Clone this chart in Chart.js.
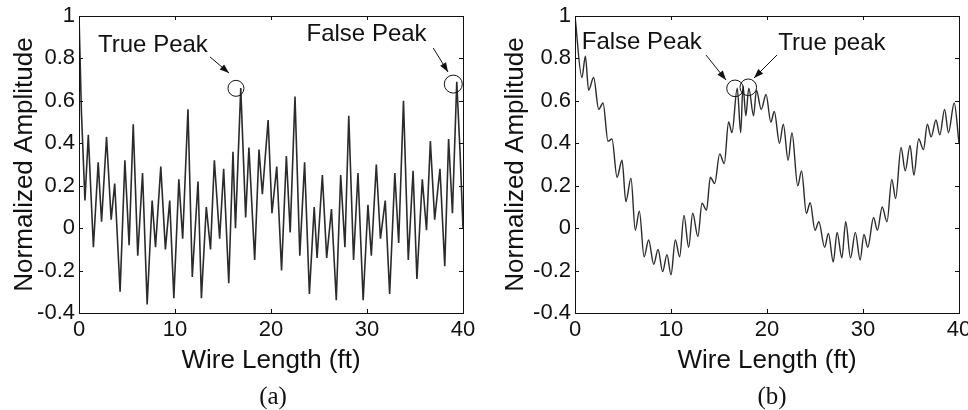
<!DOCTYPE html>
<html>
<head>
<meta charset="utf-8">
<script src="https://cdn.jsdelivr.net/npm/chart.js@4.4.1/dist/chart.umd.min.js"></script>
<style>
  html, body { margin: 0; padding: 0; background: #fff; }
  #wrap { position: relative; width: 968px; height: 410px; overflow: hidden; }
  canvas { position: absolute; top: 0; }
  .cap { position: absolute; top: 382px; font-family: "Liberation Serif", "Times New Roman", serif; font-size: 25px; color: #111; transform: translateX(-50%); }
</style>
</head>
<body>
<div id="wrap">
  <canvas id="chartA" width="484" height="410" style="left:0"></canvas>
  <canvas id="chartB" width="484" height="410" style="left:484px"></canvas>
  <div class="cap" style="left:273px">(a)</div>
  <div class="cap" style="left:772px">(b)</div>
</div>
<script>
// Datos (pies, amplitud normalizada)
const xTicks = [0, 10, 20, 30, 40];
const yTicks = [-0.4, -0.2, 0, 0.2, 0.4, 0.6, 0.8, 1];

// (a) curva con muchos picos
const lengthA = [0, 0.25, 0.62, 0.97, 1.5, 2.0, 2.35, 2.87, 3.35, 3.72, 4.28, 4.78, 5.22, 5.65, 6.12, 6.62, 7.1, 7.62, 7.97, 8.52,
  9.0, 9.45, 9.88, 10.4, 10.8, 11.35, 11.8, 12.4, 12.75, 13.26, 13.7, 14.1, 14.65, 15.07, 15.6, 16.04, 16.3, 16.85, 17.36, 17.7,
  18.3, 18.75, 19.1, 19.7, 20.1, 20.6, 21.1, 21.6, 22.0, 22.5, 23.0, 23.5, 24.0, 24.5, 24.8, 25.35, 25.8, 26.3, 26.8, 27.26,
  27.7, 28.1, 28.6, 29.06, 29.6, 30.1, 30.45, 30.97, 31.4, 31.9, 32.36, 32.9, 33.3, 33.8, 34.3, 34.8, 35.2, 35.76, 36.2, 36.6,
  37.05, 37.6, 38.1, 38.5, 38.9, 39.35, 39.7, 40];
const ampA = [1.0, 0.55, 0.13, 0.44, -0.09, 0.31, 0.03, 0.43, 0.04, 0.21, -0.30, 0.32, -0.08, 0.49, -0.13, 0.26, -0.36, 0.13, -0.09, 0.29,
  -0.10, 0.13, -0.33, 0.23, -0.05, 0.56, -0.23, 0.22, -0.33, 0.10, -0.10, 0.32, -0.05, 0.28, -0.26, 0.36, 0.0, 0.66, 0.05, 0.38,
  -0.15, 0.37, 0.16, 0.51, 0.07, 0.29, -0.20, 0.34, -0.02, 0.62, -0.13, 0.31, -0.31, 0.10, -0.14, 0.25, -0.14, 0.09, -0.34, 0.25,
  -0.09, 0.53, -0.15, 0.26, -0.34, 0.11, -0.13, 0.30, -0.05, 0.13, -0.31, 0.26, -0.07, 0.60, -0.15, 0.27, -0.24, 0.23, -0.01, 0.41,
  0.04, 0.28, -0.18, 0.42, 0.07, 0.69, 0.35, 0.0];

// (b) curva lenta con ondulacion
const lengthB = [0, 0.72, 1.08, 1.42, 1.94, 2.47, 2.92, 3.44, 3.85, 4.38, 4.9, 5.3, 5.83, 6.28, 6.7, 7.2, 7.67, 8.2, 8.65, 9.13,
  9.58, 10.0, 10.45, 10.9, 11.35, 11.84, 12.26, 12.8, 13.23, 13.7, 14.1, 14.55, 15.07, 15.55, 16.0, 16.35, 16.9, 17.26, 17.5, 17.8,
  18.1, 18.6, 18.9, 19.4, 19.9, 20.4, 20.76, 21.3, 21.7, 22.2, 22.6, 23.2, 23.6, 24.1, 24.5, 25.0, 25.4, 26.0, 26.4, 26.9,
  27.3, 27.8, 28.2, 28.7, 29.2, 29.7, 30.1, 30.5, 31.1, 31.5, 32.0, 32.5, 33.0, 33.4, 33.96, 34.4, 34.9, 35.3, 35.8, 36.3,
  36.7, 37.1, 37.6, 38.0, 38.5, 38.9, 39.5, 40];
const ampB = [1.0, 0.71, 0.81, 0.65, 0.71, 0.56, 0.59, 0.41, 0.42, 0.24, 0.32, 0.125, 0.235, -0.01, 0.08, -0.135, -0.056, -0.17, -0.10, -0.205,
  -0.125, -0.22, -0.056, -0.135, 0.06, -0.09, 0.07, -0.04, 0.117, 0.085, 0.24, 0.21, 0.35, 0.305, 0.50, 0.45, 0.66, 0.45, 0.67, 0.53,
  0.66, 0.53, 0.65, 0.56, 0.63, 0.50, 0.55, 0.40, 0.49, 0.32, 0.45, 0.20, 0.27, 0.07, 0.12, -0.01, 0.03, -0.09, -0.025, -0.16,
  -0.02, -0.14, 0.03, -0.14, -0.02, -0.15, -0.03, -0.09, 0.05, -0.01, 0.10, 0.03, 0.23, 0.14, 0.38, 0.27, 0.39, 0.25, 0.42, 0.37,
  0.49, 0.43, 0.51, 0.44, 0.56, 0.45, 0.59, 0.40];

const FONT = "'Liberation Sans', Arial, sans-serif";
const INK = '#111';

// Marco tipo MATLAB con marcas hacia adentro en los 4 lados
const framePlugin = {
  id: 'marco',
  afterDraw(chart) {
    const { ctx, chartArea: a, scales } = chart;
    ctx.save();
    ctx.strokeStyle = INK;
    ctx.lineWidth = 1;
    ctx.strokeRect(a.left + 0.5, a.top + 0.5, a.right - a.left, a.bottom - a.top);
    ctx.beginPath();
    const tl = 4;
    xTicks.forEach(v => {
      const px = Math.round(scales.x.getPixelForValue(v)) + 0.5;
      ctx.moveTo(px, a.bottom); ctx.lineTo(px, a.bottom - tl);
      ctx.moveTo(px, a.top); ctx.lineTo(px, a.top + tl);
    });
    yTicks.forEach(v => {
      const py = Math.round(scales.y.getPixelForValue(v)) + 0.5;
      ctx.moveTo(a.left, py); ctx.lineTo(a.left + tl, py);
      ctx.moveTo(a.right, py); ctx.lineTo(a.right - tl, py);
    });
    ctx.stroke();
    ctx.restore();
  }
};

// Notas: texto, flecha y circulos, posicionados en unidades de datos
function notesPlugin(notes) {
  return {
    id: 'notas',
    afterDraw(chart) {
      const { ctx, scales: { x, y } } = chart;
      ctx.save();
      ctx.fillStyle = INK;
      ctx.strokeStyle = INK;
      ctx.font = `24px ${FONT}`;
      ctx.textBaseline = 'alphabetic';
      notes.texts.forEach(t => ctx.fillText(t.text, x.getPixelForValue(t.x), y.getPixelForValue(t.y)));
      ctx.lineWidth = 1;
      notes.circles.forEach(c => {
        ctx.beginPath();
        ctx.arc(x.getPixelForValue(c.x), y.getPixelForValue(c.y), c.r, 0, Math.PI * 2);
        ctx.stroke();
      });
      notes.arrows.forEach(ar => {
        const x1 = x.getPixelForValue(ar.x1), y1 = y.getPixelForValue(ar.y1);
        const x2 = x.getPixelForValue(ar.x2), y2 = y.getPixelForValue(ar.y2);
        const ang = Math.atan2(y2 - y1, x2 - x1);
        ctx.beginPath();
        ctx.moveTo(x1, y1); ctx.lineTo(x2, y2);
        ctx.stroke();
        ctx.beginPath();
        ctx.moveTo(x2, y2);
        ctx.lineTo(x2 - 10 * Math.cos(ang - 0.35), y2 - 10 * Math.sin(ang - 0.35));
        ctx.lineTo(x2 - 10 * Math.cos(ang + 0.35), y2 - 10 * Math.sin(ang + 0.35));
        ctx.closePath();
        ctx.fill();
      });
      ctx.restore();
    }
  };
}

function dibujarPanel(id, xs, ys, cfg) {
  const ctx = document.getElementById(id);
  return new Chart(ctx, {
    type: 'line',
    data: {
      datasets: [{
        data: xs.map((v, i) => ({ x: v, y: ys[i] })),
        borderColor: '#2b2b2b',
        borderWidth: cfg.lineWidth,
        pointRadius: 0,
        fill: false,
        tension: 0,
        cubicInterpolationMode: cfg.smooth ? 'monotone' : 'default'
      }]
    },
    options: {
      responsive: false,
      animation: false,
      events: [],
      layout: { padding: { top: 16, right: cfg.padRight, left: 0, bottom: 0 } },
      plugins: { legend: { display: false }, tooltip: { enabled: false } },
      scales: {
        x: {
          type: 'linear', min: 0, max: 40,
          afterBuildTicks: s => { s.ticks = xTicks.map(v => ({ value: v })); },
          ticks: { color: INK, font: { family: FONT, size: 22 }, padding: 4, maxRotation: 0, autoSkip: false },
          grid: { display: false, drawTicks: false },
          border: { display: false },
          title: { display: true, text: 'Wire Length (ft)', color: INK, font: { family: FONT, size: 26 }, padding: { top: 0, bottom: 34 } },
          afterFit: s => { s.height = 97; s.paddingLeft = 0; s.paddingRight = 0; }
        },
        y: {
          type: 'linear', min: -0.4, max: 1,
          afterBuildTicks: s => { s.ticks = yTicks.map(v => ({ value: v })); },
          ticks: { color: INK, font: { family: FONT, size: 22 }, padding: 4, callback: v => String(Math.round(v * 10) / 10) },
          grid: { display: false, drawTicks: false },
          border: { display: false },
          title: { display: true, text: 'Normalized Amplitude', color: INK, font: { family: FONT, size: 26 }, padding: { top: cfg.titlePad, bottom: 0 } },
          afterFit: s => { s.width = cfg.axisWidth; s.paddingTop = 0; s.paddingBottom = 0; }
        }
      }
    },
    plugins: [framePlugin, notesPlugin(cfg.notes)]
  });
}

dibujarPanel('chartA', lengthA, ampA, {
  axisWidth: 79, padRight: 21, titlePad: 9, lineWidth: 1.6, smooth: false,
  notes: {
    texts: [{ text: 'True Peak', x: 1.98, y: 0.83 }, { text: 'False Peak', x: 23.7, y: 0.884 }],
    circles: [{ x: 16.35, y: 0.659, r: 8 }, { x: 38.99, y: 0.679, r: 9 }],
    arrows: [{ x1: 13.65, y1: 0.807, x2: 15.63, y2: 0.731 }, { x1: 36.9, y1: 0.849, x2: 38.44, y2: 0.736 }]
  }
});

dibujarPanel('chartB', lengthB, ampB, {
  axisWidth: 91, padRight: 9, titlePad: 16, lineWidth: 1.4, smooth: true,
  notes: {
    texts: [{ text: 'False Peak', x: 0.7, y: 0.843 }, { text: 'True peak', x: 21.18, y: 0.84 }],
    circles: [{ x: 16.67, y: 0.659, r: 8.3 }, { x: 18.05, y: 0.664, r: 8.3 }],
    arrows: [{ x1: 13.65, y1: 0.816, x2: 15.73, y2: 0.698 }, { x1: 21.04, y1: 0.816, x2: 18.65, y2: 0.708 }]
  }
});
</script>
</body>
</html>
